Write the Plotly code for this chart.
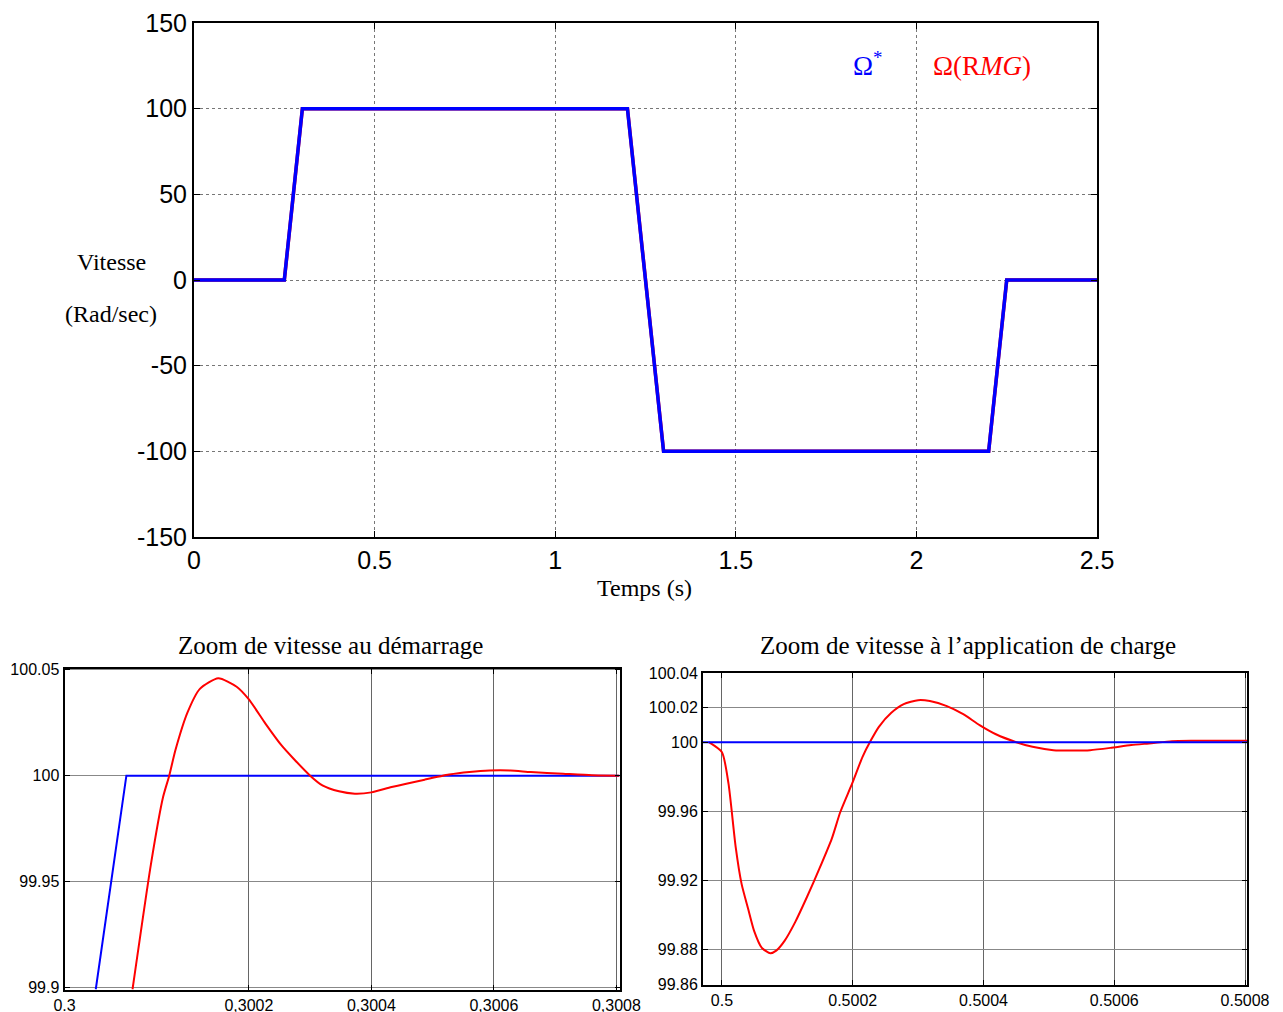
import plotly.graph_objects as go

# ---------------- data ----------------
# Top plot: speed reference and measured speed (rad/s) vs time (s)
t_ref = [0.0, 0.25, 0.30, 1.20, 1.30, 2.20, 2.25, 2.50]
w_ref = [0, 0, 100, 100, -100, -100, 0, 0]
t_rmg = [0.0, 0.2501, 0.3001, 1.2001, 1.3001, 2.2001, 2.2501, 2.50]
w_rmg = [0, 0, 100, 100, -100, -100, 0, 0]

# Bottom-left: zoom at start-up
tz1_ref = [0.29995, 0.30000, 0.300805]
wz1_ref = [99.899, 100.0, 100.0]
tz1_rmg = [0.30001, 0.30004, 0.30006, 0.30007, 0.30008, 0.30010, 0.30012, 0.30015,
           0.30018, 0.30020, 0.300227, 0.300253, 0.300273, 0.30030, 0.30032, 0.300347,
           0.300373, 0.30040, 0.300433, 0.300487, 0.300527, 0.30056, 0.300593, 0.300627,
           0.30066, 0.300713, 0.30076, 0.300805]
wz1_rmg = [99.899, 99.958, 99.990, 100.0, 100.012, 100.030, 100.041, 100.046,
           100.042, 100.036, 100.0246, 100.0144, 100.008, 100.0, 99.9954, 99.9926,
           99.9915, 99.9921, 99.9946, 99.9981, 100.0005, 100.0017, 100.0024, 100.0024,
           100.0017, 100.0009, 100.0002, 100.0]

# Bottom-right: zoom at load application
tz2_ref = [0.499971, 0.500803]
wz2_ref = [100.0, 100.0]
tz2_rmg = [0.49998, 0.50000, 0.50001, 0.500021, 0.50003, 0.50004, 0.500049, 0.500061,
           0.500074, 0.500083, 0.500096, 0.500112, 0.50013, 0.500149, 0.500168, 0.500181,
           0.500199, 0.500215, 0.500228, 0.50024, 0.500259, 0.500278, 0.50030, 0.500318,
           0.500344, 0.500369, 0.500394, 0.500419, 0.50045, 0.500475, 0.500507, 0.500538,
           0.500563, 0.500594, 0.500626, 0.500657, 0.500688, 0.50072, 0.500803]
wz2_rmg = [100.0, 99.9942, 99.976, 99.9393, 99.918, 99.9036, 99.891, 99.881,
           99.8779, 99.8794, 99.8852, 99.8959, 99.9104, 99.9268, 99.9442, 99.9596,
           99.976, 99.9915, 100.0012, 100.0089, 100.017, 100.022, 100.0243, 100.0238,
           100.0209, 100.0162, 100.0099, 100.0046, 100.0, 99.9973, 99.9954, 99.9952,
           99.9954, 99.9967, 99.9983, 99.9994, 100.0006, 100.0008, 100.0008]

top_xticks = [0, 0.5, 1, 1.5, 2, 2.5]
top_yticks = [-150, -100, -50, 0, 50, 100, 150]
z1_xticks = [0.299899, 0.3002, 0.3004, 0.3006, 0.3008]
z1_xtext = ["0.3", "0,3002", "0,3004", "0,3006", "0,3008"]
z1_yticks = [99.9, 99.95, 100.0, 100.05]
z1_ytext = ["99.9", "99.95", "100", "100.05"]
z2_xticks = [0.5, 0.5002, 0.5004, 0.5006, 0.5008]
z2_xtext = ["0.5", "0.5002", "0.5004", "0.5006", "0.5008"]
z2_yticks = [99.86, 99.88, 99.92, 99.96, 100.0, 100.02, 100.04]
z2_ytext = ["99.86", "99.88", "99.92", "99.96", "100", "100.02", "100.04"]

BLUE = "#0000ff"
RED = "#ff0000"
SANS = "Liberation Sans, Arial, sans-serif"
SERIF = "Liberation Serif, Times New Roman, serif"

fig = go.Figure()
fig.add_trace(go.Scatter(x=t_rmg, y=w_rmg, mode="lines", line=dict(color=RED, width=3.5),
                         xaxis="x", yaxis="y", showlegend=False))
fig.add_trace(go.Scatter(x=t_ref, y=w_ref, mode="lines", line=dict(color=BLUE, width=3.5),
                         xaxis="x", yaxis="y", showlegend=False))
fig.add_trace(go.Scatter(x=tz1_ref, y=wz1_ref, mode="lines", line=dict(color=BLUE, width=2),
                         xaxis="x2", yaxis="y2", showlegend=False))
fig.add_trace(go.Scatter(x=tz1_rmg, y=wz1_rmg, mode="lines", line=dict(color=RED, width=2, shape="spline", smoothing=0.6),
                         xaxis="x2", yaxis="y2", showlegend=False))
fig.add_trace(go.Scatter(x=tz2_rmg, y=wz2_rmg, mode="lines", line=dict(color=RED, width=2, shape="spline", smoothing=0.6),
                         xaxis="x3", yaxis="y3", showlegend=False))
fig.add_trace(go.Scatter(x=tz2_ref, y=wz2_ref, mode="lines", line=dict(color=BLUE, width=2),
                         xaxis="x3", yaxis="y3", showlegend=False))

W, H = 1283, 1012
def dx(a, b):
    return [a / W, b / W]
def dy(top, bottom):
    return [1 - bottom / H, 1 - top / H]

common = dict(showline=True, linecolor="black", mirror="ticks", ticks="inside",
              tickcolor="black", zeroline=False, showgrid=True, automargin=False)

fig.update_layout(
    width=W, height=H, margin=dict(l=0, r=0, t=0, b=0, autoexpand=False),
    paper_bgcolor="white", plot_bgcolor="white",
    xaxis=dict(**common, domain=dx(194, 1097), anchor="y", range=[0, 2.5],
               tickvals=top_xticks, ticktext=[str(v) for v in top_xticks],
               linewidth=2, ticklen=6, gridcolor="#777777", griddash="dot", gridwidth=1,
               tickfont=dict(family=SANS, size=25, color="black")),
    yaxis=dict(**common, domain=dy(23, 537), anchor="x", range=[-150, 150],
               tickvals=top_yticks, ticktext=[str(v) for v in top_yticks],
               linewidth=2, ticklen=6, gridcolor="#777777", griddash="dot", gridwidth=1,
               tickfont=dict(family=SANS, size=25, color="black")),
    xaxis2=dict(**common, domain=dx(64.5, 619.5), anchor="y2", range=[0.299899, 0.300805],
                tickvals=z1_xticks, ticktext=z1_xtext, linewidth=2, ticklen=5,
                gridcolor="#666666", gridwidth=1,
                tickfont=dict(family=SANS, size=16, color="black")),
    yaxis2=dict(**common, domain=dy(668.5, 989.5), anchor="x2", range=[99.899, 100.0506],
                tickvals=z1_yticks, ticktext=z1_ytext, linewidth=2, ticklen=5,
                gridcolor="#888888", gridwidth=1,
                tickfont=dict(family=SANS, size=16, color="black")),
    xaxis3=dict(**common, domain=dx(703, 1247), anchor="y3", range=[0.499971, 0.500803],
                tickvals=z2_xticks, ticktext=z2_xtext, linewidth=2, ticklen=5,
                gridcolor="#666666", gridwidth=1,
                tickfont=dict(family=SANS, size=16, color="black")),
    yaxis3=dict(**common, domain=dy(672.7, 985), anchor="x3", range=[99.8595, 100.0402],
                tickvals=z2_yticks, ticktext=z2_ytext, linewidth=2, ticklen=5,
                gridcolor="#888888", gridwidth=1,
                tickfont=dict(family=SANS, size=16, color="black")),
)

def ann(text, x, y, size, color="black", xanchor="center"):
    fig.add_annotation(text=text, x=x / W, y=1 - y / H, xref="paper", yref="paper",
                       showarrow=False, xanchor=xanchor, yanchor="middle",
                       font=dict(family=SERIF, size=size, color=color))

ann("Vitesse", 111, 262, 24)
ann("(Rad/sec)", 111, 314, 24)
ann("Temps (s)", 644, 588, 24)
ann("Ω<sup>*</sup>", 868, 64, 27, BLUE)
ann("Ω(R<i>MG</i>)", 982, 66, 27, RED)
ann("Zoom de vitesse au démarrage", 330, 645, 25)
ann("Zoom de vitesse à l’application de charge", 968, 645, 25)

fig.write_html("out.html")
